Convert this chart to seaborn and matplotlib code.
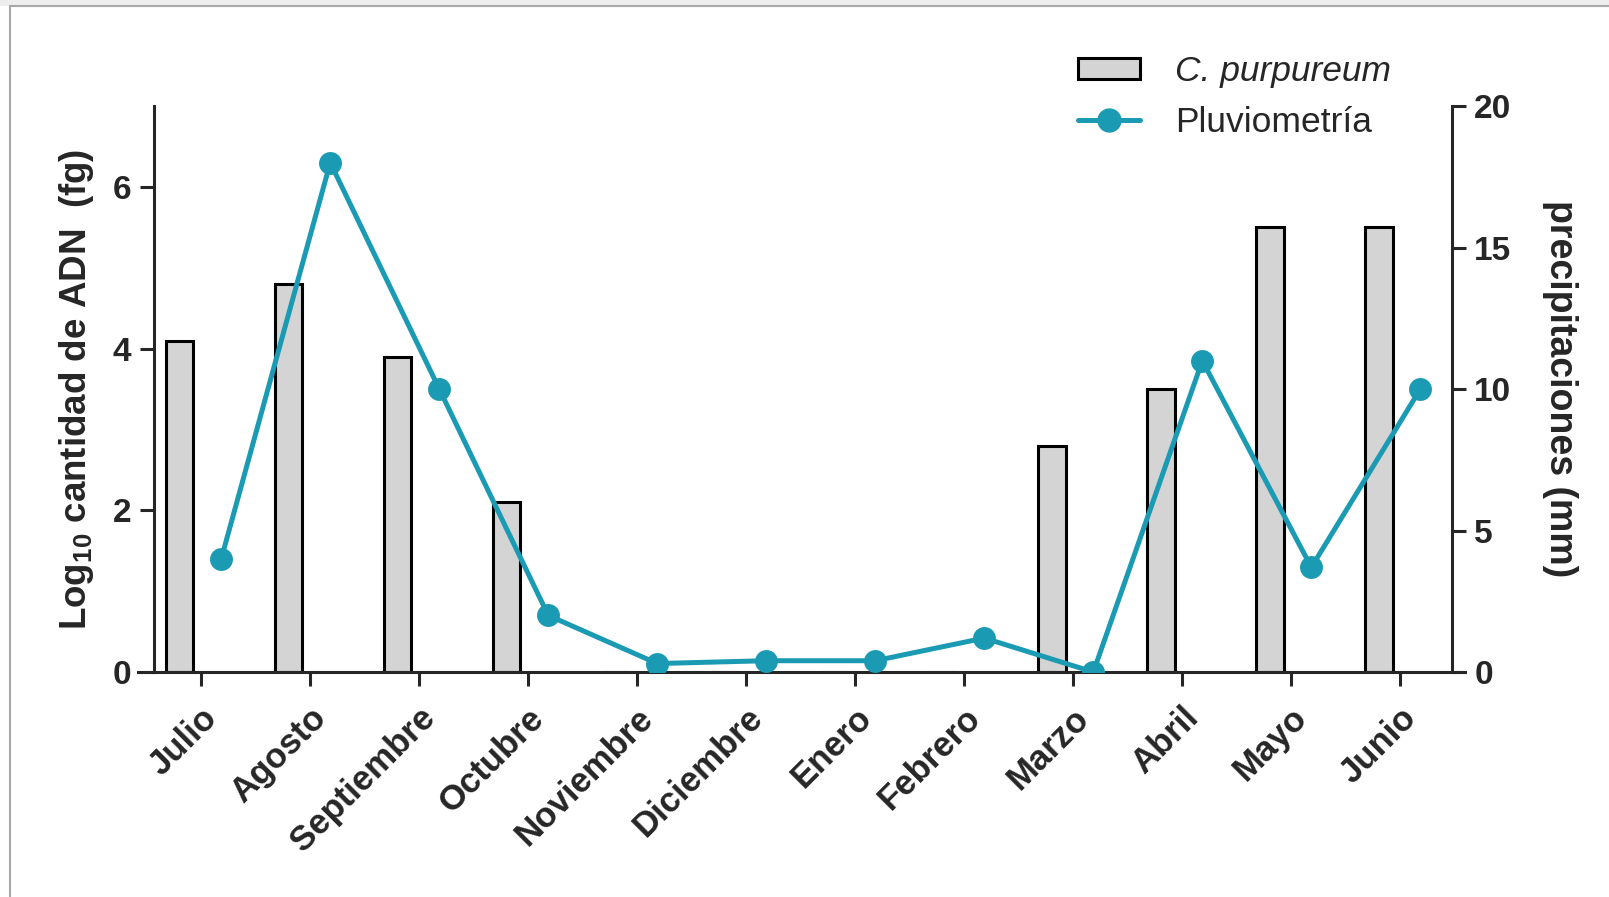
import numpy as np
import pandas as pd
import seaborn as sns
import matplotlib.pyplot as plt
from matplotlib.patches import Patch, Rectangle
from matplotlib.lines import Line2D

months = ["Julio", "Agosto", "Septiembre", "Octubre", "Noviembre", "Diciembre",
          "Enero", "Febrero", "Marzo", "Abril", "Mayo", "Junio"]
log_adn = [4.1, 4.8, 3.9, 2.1, 0, 0, 0, 0, 2.8, 3.5, 5.5, 5.5]
precip = [4.0, 18.0, 10.0, 2.0, 0.3, 0.4, 0.4, 1.2, 0.0, 11.0, 3.7, 10.0]

TEAL = "#1b9bb3"
GREY = "#d4d4d4"

sns.set_style("ticks")
plt.rcParams["font.family"] = ["Liberation Sans", "DejaVu Sans"]
plt.rcParams["mathtext.fontset"] = "custom"
plt.rcParams["mathtext.rm"] = "Liberation Sans:bold"
plt.rcParams["mathtext.bf"] = "Liberation Sans:bold"

df = pd.DataFrame({"mes": months, "adn": log_adn, "lluvia": precip})
df["pos"] = np.arange(len(months))

fig = plt.figure(figsize=(16.09, 8.97), dpi=100)
ax = fig.add_axes([0.0955, 0.2508, 0.8069, 0.631])
ax2 = ax.twinx()

# bars sit left of the tick, rain points right of it
sns.barplot(x=df["pos"] - 0.19, y=df["adn"], native_scale=True, width=0.25,
            color=GREY, edgecolor="black", linewidth=2.2, saturation=1, ax=ax)
sns.lineplot(x=df["pos"] + 0.19, y=df["lluvia"], color=TEAL, linewidth=3.6,
             marker="o", markersize=16.5, markeredgewidth=0, ax=ax2)

ax.set_xlim(-0.43, 11.48)
ax.set_ylim(0, 7)
ax2.set_ylim(0, 20)
ax.set_xticks(df["pos"])
ax.set_xticklabels(months, rotation=45, ha="right", rotation_mode="anchor",
                   fontsize=25, fontweight="bold")
ax.set_yticks([0, 2, 4, 6])
ax2.set_yticks([0, 5, 10, 15, 20])
for lab in ax.get_yticklabels() + ax2.get_yticklabels():
    lab.set_fontsize(24)
    lab.set_fontweight("bold")

ax.set_xlabel("")
ax2.set_xlabel("")
ax.set_ylabel(r"Log$_{10}$ cantidad de ADN  (fg)", fontsize=26.5, fontweight="bold", labelpad=12)
ax2.set_ylabel("precipitaciones (mm)", fontsize=27, fontweight="bold",
               rotation=270, labelpad=48)

for s in ["top", "right"]:
    ax.spines[s].set_visible(False)
for s in ["top", "left", "bottom"]:
    ax2.spines[s].set_visible(False)
for a in (ax, ax2):
    for s in a.spines.values():
        s.set_linewidth(2.2)
ax.spines["bottom"].set_bounds(-0.57, 11.6)
ax.tick_params(axis="both", width=2.2, length=10, pad=6)
ax.tick_params(axis="x", pad=11)
ax2.tick_params(axis="y", width=2.2, length=10, pad=6)

handles = [Patch(facecolor=GREY, edgecolor="black", linewidth=2.2),
           Line2D([], [], color=TEAL, linewidth=3.6, marker="o", markersize=16.5)]
leg = fig.legend(handles, ["C. purpureum", "Pluviometría"], loc="upper left",
                 bbox_to_anchor=(1078 / 1609, 1 - 55 / 897), frameon=False,
                 fontsize=25.5, handlelength=1.75, handletextpad=1.0, labelspacing=0.5,
                 handleheight=0.55, borderpad=0, borderaxespad=0)
leg.get_texts()[0].set_fontstyle("italic")

# faint page frame of the original image
fig.add_artist(Rectangle((0, 1 - 6 / 897), 1, 6 / 897, transform=fig.transFigure,
                         facecolor="#eeeeee", edgecolor="none"))
fig.add_artist(Line2D([10 / 1609, 1], [1 - 6 / 897, 1 - 6 / 897], transform=fig.transFigure,
                      color="#a8a8a8", linewidth=1.5))
fig.add_artist(Line2D([10 / 1609, 10 / 1609], [0, 1 - 6 / 897], transform=fig.transFigure,
                      color="#a8a8a8", linewidth=1.5))

fig.savefig("out.png", dpi=100)
